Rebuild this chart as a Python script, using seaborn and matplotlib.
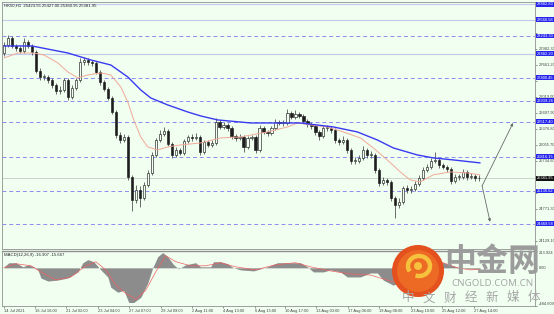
import numpy as np
import pandas as pd
import matplotlib
matplotlib.use("Agg")
import matplotlib.pyplot as plt
import seaborn as sns
from matplotlib.patches import Circle, Arc

# ---------------- data ----------------
opens = [27902, 28063, 28203, 28043, 28003, 27942, 28123, 28043, 27922, 27541,
         27421, 27421, 27360, 27260, 27140, 27160, 27360, 27019, 27200, 27360,
         27722, 27762, 27722, 27702, 27521, 27320, 27180, 26999, 26718, 26257,
         26156, 26216, 25414, 24952, 25153, 24992, 25253, 25494, 25855, 26156,
         26277, 26337, 26076, 25855, 25955, 25895, 26136, 26216, 26196, 26216,
         25915, 26116, 26056, 26096, 26517, 26417, 26457, 26397, 26236, 26196,
         26216, 26016, 26196, 26216, 25955, 26397, 26317, 26297, 26397, 26517,
         26497, 26497, 26698, 26618, 26678, 26638, 26537, 26477, 26437, 26317,
         26236, 26397, 26397, 26357, 26156, 26116, 26156, 25955, 25735, 25735,
         25795, 25955, 25855, 25855, 25554, 25293, 25353, 25313, 24992, 24852,
         24912, 25193, 25153, 25173, 25273, 25393, 25554, 25614, 25735, 25755,
         25654, 25614, 25574, 25333, 25414, 25414, 25514, 25414, 25434, 25393]
closes = [28063, 28203, 28043, 28003, 27942, 28123, 28043, 27922, 27541, 27421,
          27421, 27360, 27260, 27140, 27160, 27360, 27019, 27200, 27360, 27722,
          27762, 27722, 27702, 27521, 27320, 27180, 26999, 26718, 26257, 26156,
          26216, 25414, 24952, 25153, 24992, 25253, 25494, 25855, 26156, 26277,
          26337, 26076, 25855, 25955, 25895, 26136, 26216, 26196, 26216, 25915,
          26116, 26056, 26096, 26517, 26417, 26457, 26397, 26236, 26196, 26216,
          26016, 26196, 26216, 25955, 26397, 26317, 26297, 26397, 26517, 26497,
          26497, 26698, 26618, 26678, 26638, 26537, 26477, 26437, 26317, 26236,
          26397, 26397, 26357, 26156, 26116, 26156, 25955, 25735, 25735, 25795,
          25955, 25855, 25855, 25554, 25293, 25353, 25313, 24992, 24852, 24912,
          25193, 25153, 25173, 25273, 25393, 25554, 25614, 25735, 25755, 25654,
          25614, 25574, 25333, 25414, 25414, 25514, 25414, 25434, 25393, 25382]
highs = [28123, 28263, 28243, 28083, 28043, 28203, 28163, 28083, 27962, 27601,
         27481, 27461, 27401, 27300, 27240, 27401, 27401, 27260, 27401, 27802,
         27822, 27802, 27762, 27742, 27561, 27360, 27220, 27039, 26758, 26317,
         26277, 26257, 25454, 25253, 25233, 25313, 25554, 25915, 26196, 26357,
         26417, 26377, 26116, 26016, 25996, 26176, 26257, 26277, 26297, 26257,
         26156, 26156, 26156, 26598, 26558, 26517, 26497, 26437, 26277, 26277,
         26257, 26236, 26257, 26257, 26457, 26437, 26357, 26437, 26578, 26558,
         26558, 26778, 26738, 26758, 26718, 26678, 26578, 26517, 26477, 26357,
         26457, 26457, 26437, 26397, 26196, 26236, 26196, 25996, 25815, 25855,
         26036, 25996, 25935, 25895, 25594, 25414, 25393, 25353, 25032, 24992,
         25233, 25253, 25233, 25333, 25454, 25614, 25674, 25795, 25915, 25795,
         25695, 25654, 25614, 25474, 25474, 25574, 25554, 25494, 25474, 25454]
lows = [27842, 28023, 28003, 27942, 27902, 27902, 28003, 27862, 27501, 27360,
        27360, 27300, 27200, 27079, 27079, 27120, 26959, 26979, 27160, 27320,
        27661, 27661, 27641, 27481, 27260, 27140, 26959, 26678, 26196, 26096,
        26116, 25353, 24731, 24892, 24811, 24952, 25213, 25454, 25815, 26116,
        26236, 26036, 25795, 25815, 25855, 25855, 26096, 26136, 26156, 25855,
        25875, 26016, 26016, 26056, 26377, 26377, 26337, 26176, 26136, 26156,
        25915, 25976, 26156, 25895, 25915, 26277, 26236, 26257, 26357, 26457,
        26437, 26457, 26578, 26578, 26598, 26497, 26417, 26377, 26257, 26156,
        26196, 26337, 26297, 26096, 26056, 26076, 25895, 25674, 25674, 25695,
        25755, 25795, 25795, 25494, 25233, 25253, 25253, 24932, 24591, 24791,
        24872, 25092, 25092, 25133, 25233, 25353, 25514, 25574, 25695, 25594,
        25574, 25514, 25273, 25293, 25353, 25373, 25353, 25373, 25333, 25333]

ma_slow_idx = [0, 7, 16, 21.75, 26.75, 31, 34.25, 36.75, 41, 46, 49.25, 53.5,
               61.75, 74.25, 82.5, 88.5, 93.5, 97.5, 103.5, 107.5, 112.5, 119.25]
ma_slow = [28043, 28043, 27902, 27762, 27661, 27421, 27160, 26999, 26859, 26718,
           26638, 26558, 26497, 26497, 26417, 26317, 26156, 25996, 25855, 25795,
           25755, 25695]
ma_fast_idx = [0, 3.5, 7.5, 10, 13.5, 16, 18.5, 21, 24.25, 26.75, 29.25, 31,
               32.5, 34.25, 36, 38.5, 41, 44.25, 49.25, 54.25, 59.25, 66, 71,
               73.5, 76.75, 81, 85, 89.25, 92.5, 96, 99.25, 101.75, 104.25,
               107.5, 111.75, 116, 119.25]
ma_fast = [27802, 27902, 27902, 27862, 27702, 27521, 27401, 27461, 27501, 27461,
           27220, 26919, 26558, 26216, 26016, 25955, 26016, 26056, 26096, 26196,
           26216, 26317, 26417, 26497, 26457, 26417, 26317, 26196, 25996, 25755,
           25514, 25353, 25313, 25454, 25514, 25494, 25454]

macd_idx = [0, 1.25, 3, 4.75, 6, 7.5, 8.5, 9.25, 11, 13.5, 16, 18.5, 19.75, 21,
            22.5, 24.25, 26, 26.75, 28.5, 30, 31.25, 32.5, 34.25, 36, 37.25,
            38.5, 39.75, 41, 42.5, 43.75, 45.5, 48, 49.25, 51.75, 52.5, 54.25,
            56, 57.5, 59.25, 62.5, 64.25, 66, 68.5, 70, 74.25, 76, 77.5, 80,
            81.75, 84.25, 86, 89.25, 91.75, 93.5, 95, 97.5, 99.25, 101.75,
            104.25, 106.75, 109.25, 111.75, 114.25, 116.75, 119.25]
macd_vals = [13, 65, 65, 13, 39, 13, -26, -129, -168, -155, -129, -52, 65, 104,
             78, -26, -116, -246, -310, -285, -440, -440, -375, -194, 0, 142,
             194, 142, 39, -13, 39, 65, 13, 13, 78, 78, 52, 0, -26, -39, -13,
             13, 65, 65, 65, 13, -52, -52, -26, -52, -116, -116, -65, -65, -155,
             -220, -181, -129, -26, 52, 78, 39, 0, -13, -17]
signal_idx = [0, 3, 6.75, 9.25, 13, 16.75, 20.5, 23, 25.5, 28, 30.5, 33, 35.5,
              38, 40.5, 43, 46.75, 50.5, 54.25, 58, 63, 68, 73, 76.75, 81.75,
              86.75, 91.75, 96.75, 99.25, 104.25, 110, 113.5, 116.75, 119.25]
signal_vals = [0, 52, 26, -52, -155, -116, 26, 78, -26, -220, -324, -401, -285,
               -52, 155, 78, 26, 26, 65, 13, -26, 39, 65, 13, -39, -78, -91,
               -168, -194, -78, 65, 0, -26, -16]

price_ticks = [24129.10, 24450.20, 24771.30, 25092.40, 25413.50, 25734.60,
               26055.70, 26376.80, 26697.90, 27019.00, 27340.10, 27661.20,
               27982.30, 28303.40, 28624.50]
solid_levels = [28882.83, 28568.58, 27882.20]
dashed_levels = [28243.30, 27400.45, 26939.26, 26517.40, 25816.15, 25130.62, 24469.58]
current_price = 25381.95

time_pos = [0, 7.75, 15.5, 23.5, 31.25, 39.25, 47, 54.75, 62.75, 70.5, 78.25,
            86.25, 94, 102, 109.75, 117.75]
time_labels = ["14 Jul 2021", "16 Jul 16:00", "21 Jul 02:00", "23 Jul 04:00",
               "27 Jul 07:00", "29 Jul 09:00", "2 Aug 11:00", "4 Aug 13:00",
               "6 Aug 15:00", "10 Aug 17:00", "13 Aug 03:00", "17 Aug 06:00",
               "19 Aug 08:00", "23 Aug 10:00", "25 Aug 12:00", "27 Aug 14:00"]
macd_ticks = [213.924, 0.0, -484.609]
macd_tick_labels = ["213.924", "0.00", "-484.609"]

# ---------------- style ----------------
sns.set_style("white")
plt.rcParams["font.family"] = ["Liberation Sans", "DejaVu Sans"]
BG = "#f0fff0"
W, H = 554, 314
FS = 2.9
fig = plt.figure(figsize=(W / 100, H / 100), dpi=100, facecolor=BG)

ax = fig.add_axes([2 / W, (H - 249) / H, 533 / W, 247 / H], facecolor=BG)
ax2 = fig.add_axes([2 / W, (H - 306) / H, 533 / W, 55 / H], facecolor=BG)

df = pd.DataFrame({"o": opens, "h": highs, "l": lows, "c": closes})
df["x"] = np.arange(len(df))
XL = (-0.5, 133)
YL = (23966, 28926)
px_per_price = 247 / (YL[1] - YL[0])

# horizontal reference lines
for v in solid_levels:
    ax.axhline(v, color="#c4c8ec", lw=0.8, zorder=1)
for v in dashed_levels:
    ax.axhline(v, color="#8a8cf0", lw=0.7, ls=(0, (4, 3)), zorder=1)
ax.axhline(current_price, color="#c8ccc8", lw=0.6, zorder=1)

# candles
ax.vlines(df["x"], df["l"], df["h"], color="#555555", lw=0.6, zorder=3)
bottom = np.minimum(df["o"], df["c"])
height = np.maximum(np.abs(df["c"] - df["o"]), 12)
face = np.where(df["c"] >= df["o"], "#f4fff4", "#1e1e1e")
ax.bar(df["x"], height, bottom=bottom, width=0.55, color=face,
       edgecolor="#1e1e1e", linewidth=0.45, zorder=4)

# moving averages
sns.lineplot(x=ma_fast_idx, y=ma_fast, ax=ax, color="#f2a898", lw=0.7, zorder=5)
sns.lineplot(x=ma_slow_idx, y=ma_slow, ax=ax, color="#3a3af0", lw=1.0, zorder=6)

# projection arrows
for tgt in [(127.5, 26497), (121.75, 24511)]:
    ax.annotate("", xy=tgt, xytext=(119.75, 25233),
                arrowprops=dict(arrowstyle="-|>", color="#6a6a6a", lw=0.6,
                                mutation_scale=4, shrinkA=0, shrinkB=0), zorder=7)

ax.set_xlim(*XL)
ax.set_ylim(*YL)
ax.set_xticks([])
ax.yaxis.tick_right()
# keep only tick labels that do not sit under a highlighted level box
marked = solid_levels + dashed_levels + [current_price]
shown = [t for t in price_ticks
         if min(abs(t - m) for m in marked) * px_per_price >= 3.6]
ax.set_yticks(price_ticks)
ax.set_yticklabels([f"{v:.2f}" if v in shown else "" for v in price_ticks])
ax.tick_params(axis="y", labelsize=FS, length=1.5, width=0.4, pad=1.2,
               colors="#444444", right=True, left=False)
for s in ax.spines.values():
    s.set_color("#909090")
    s.set_linewidth(0.6)

tr = ax.get_yaxis_transform()
for v in solid_levels + dashed_levels:
    ax.text(1.003, v, f"{v:.2f}", transform=tr, fontsize=FS, color="white",
            va="center", ha="left", zorder=10, clip_on=False,
            bbox=dict(boxstyle="square,pad=0.12", fc="#2626ee", ec="none"))
ax.text(1.003, current_price, f"{current_price:.2f}", transform=tr, fontsize=FS,
        color="white", va="center", ha="left", zorder=10, clip_on=False,
        bbox=dict(boxstyle="square,pad=0.12", fc="#111111", ec="none"))

ax.text(0.004, 0.993, "HK50,H1  25423.55 25427.00 25360.95 25381.95",
        transform=ax.transAxes, fontsize=3.1, color="#222222", va="top", ha="left")

# MACD panel
ax2.fill_between(macd_idx, macd_vals, 0, color="#8c8c8c", lw=0, zorder=2)
sns.lineplot(x=signal_idx, y=signal_vals, ax=ax2, color="#f06060", lw=0.5, zorder=3)
ax2.set_xlim(*XL)
ax2.set_ylim(-484.609, 213.924)
ax2.yaxis.tick_right()
ax2.set_yticks(macd_ticks)
ax2.set_yticklabels(macd_tick_labels)
ax2.tick_params(axis="y", labelsize=FS, length=1.5, width=0.4, pad=1.2,
                colors="#444444", right=True, left=False)
ylabs = ax2.get_yticklabels()
ylabs[0].set_va("top")
ylabs[-1].set_va("bottom")
ax2.set_xticks(time_pos)
ax2.set_xticklabels(time_labels, ha="left")
ax2.tick_params(axis="x", labelsize=FS, length=1.5, width=0.4, pad=0.8,
                colors="#444444", bottom=True)
for s in ax2.spines.values():
    s.set_color("#909090")
    s.set_linewidth(0.6)
ax2.spines["top"].set_linewidth(1.0)
ax2.text(0.004, 0.97, "MACD(12,26,9) -16.907 -15.667", transform=ax2.transAxes,
         fontsize=3.1, color="#222222", va="top", ha="left")

# watermark logo overlay (pixel coordinates)
ov = fig.add_axes([0, 0, 1, 1], facecolor="none")
ov.set_xlim(0, W)
ov.set_ylim(H, 0)
ov.axis("off")
ov.add_patch(Circle((418, 271), 26, fc="#e4511f", ec="none", zorder=1))
ov.add_patch(Circle((418, 271), 21, fc="#ec6a24", ec="none", zorder=1))
ov.add_patch(Arc((419, 266), 22, 20, theta1=150, theta2=470, color="#f6c13c", lw=3.2, zorder=2))
ov.add_patch(Circle((418, 266), 4, fc="#f6c13c", ec="none", zorder=2))
cjk = ["Noto Sans CJK SC", "DejaVu Sans"]
ov.text(492, 262, "中金网", fontsize=23, family=cjk, fontweight="bold",
        color="#9c9c9c", ha="center", va="center", zorder=3)
ov.text(492, 283, "CNGOLD.COM.CN", fontsize=7, family=["Noto Sans", "DejaVu Sans"],
        color="#a8a8a8", ha="center", va="center", zorder=3)
for k, ch in enumerate("中文财经新媒体"):
    ov.text(408 + 21 * k, 298, ch, fontsize=9, family=cjk, color="#a6a6a6",
            ha="center", va="center", zorder=3)

fig.savefig("out.png", dpi=100, facecolor=BG)
